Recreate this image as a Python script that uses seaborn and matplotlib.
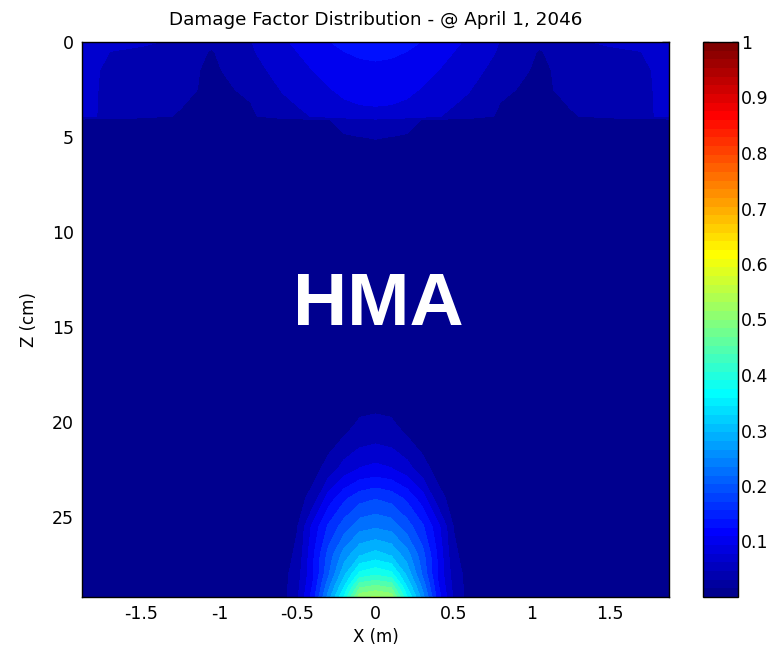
import numpy as np
import pandas as pd
import matplotlib
matplotlib.use("Agg")
import matplotlib.pyplot as plt
import seaborn as sns
from matplotlib.colors import Normalize, ListedColormap
from matplotlib.cm import ScalarMappable

# ---------------- data ----------------
TITLE = "Damage Factor Distribution - @ April 1, 2046"
X_LABEL = "X (m)"
Z_LABEL = "Z (cm)"
LAYER_LABEL = "HMA"

X_M = [-1.88, -1.5, -1.25, -1.05, -0.8, -0.6, -0.5, -0.4, -0.3, -0.2, -0.1, 0.0,
       0.1, 0.2, 0.3, 0.4, 0.5, 0.6, 0.8, 1.05, 1.25, 1.5, 1.88]
Z_CM = [0.0, 0.5, 1.5, 2.5, 3.9, 4.1, 5.0, 6.5, 18.0, 19.5, 20.2, 21.0, 22.5,
        24.0, 25.5, 27.0, 28.0, 28.6, 29.2]

DAMAGE = [
    [.069, .069, .055, .040, .061, .087, .101, .114, .124, .132, .136, .137, .136, .132, .124, .114, .101, .087, .061, .040, .055, .069, .069],
    [.069, .055, .047, .029, .059, .083, .094, .107, .118, .125, .130, .132, .130, .125, .118, .107, .094, .083, .059, .029, .047, .055, .069],
    [.069, .047, .043, .024, .052, .072, .082, .094, .103, .111, .116, .118, .116, .111, .103, .094, .082, .072, .052, .024, .043, .047, .069],
    [.069, .045, .040, .024, .036, .064, .073, .083, .092, .100, .104, .105, .104, .100, .092, .083, .073, .064, .036, .024, .040, .045, .069],
    [.069, .043, .028, .020, .026, .050, .056, .064, .075, .082, .086, .087, .086, .082, .075, .064, .056, .050, .026, .020, .028, .043, .069],
    [.020, .018, .017, .017, .018, .019, .021, .025, .030, .040, .050, .055, .050, .040, .030, .025, .021, .019, .018, .017, .017, .018, .020],
    [.017, .017, .017, .017, .017, .017, .019, .021, .024, .029, .031, .032, .031, .029, .024, .021, .019, .017, .017, .017, .017, .017, .017],
    [.017, .017, .017, .017, .017, .017, .017, .017, .019, .021, .021, .022, .021, .021, .019, .017, .017, .017, .017, .017, .017, .017, .017],
    [.017, .017, .017, .017, .017, .017, .017, .018, .019, .021, .023, .024, .023, .021, .019, .018, .017, .017, .017, .017, .017, .017, .017],
    [.017, .017, .017, .017, .017, .017, .018, .019, .020, .024, .028, .030, .028, .024, .020, .019, .018, .017, .017, .017, .017, .017, .017],
    [.017, .017, .017, .017, .017, .017, .017, .018, .018, .022, .037, .043, .037, .022, .018, .018, .017, .017, .017, .017, .017, .017, .017],
    [.017, .017, .017, .017, .017, .017, .017, .018, .019, .036, .052, .058, .052, .036, .019, .018, .017, .017, .017, .017, .017, .017, .017],
    [.017, .017, .017, .017, .017, .017, .018, .019, .045, .077, .097, .104, .097, .077, .045, .019, .018, .017, .017, .017, .017, .017, .017],
    [.017, .017, .017, .017, .017, .018, .018, .043, .108, .149, .175, .185, .175, .149, .108, .043, .018, .018, .017, .017, .017, .017, .017],
    [.017, .017, .017, .017, .017, .018, .030, .103, .162, .203, .237, .245, .237, .203, .162, .103, .030, .018, .017, .017, .017, .017, .017],
    [.017, .017, .017, .017, .017, .018, .037, .120, .200, .265, .310, .325, .310, .265, .200, .120, .037, .018, .017, .017, .017, .017, .017],
    [.017, .017, .017, .017, .017, .018, .048, .120, .215, .305, .385, .400, .385, .305, .215, .120, .048, .018, .017, .017, .017, .017, .017],
    [.017, .017, .017, .017, .017, .018, .052, .128, .240, .340, .455, .470, .455, .340, .240, .128, .052, .018, .017, .017, .017, .017, .017],
    [.017, .017, .017, .017, .017, .018, .058, .140, .265, .380, .520, .535, .520, .380, .265, .140, .058, .018, .017, .017, .017, .017, .017],
]

X_TICKS = [-1.5, -1.0, -0.5, 0.0, 0.5, 1.0, 1.5]
X_TICK_LABELS = ["-1.5", "-1", "-0.5", "0", "0.5", "1", "1.5"]
Z_TICKS = [0, 5, 10, 15, 20, 25]
Z_TICK_LABELS = ["0", "5", "10", "15", "20", "25"]
CBAR_TICKS = [0.1, 0.2, 0.3, 0.4, 0.5, 0.6, 0.7, 0.8, 0.9, 1.0]
CBAR_TICK_LABELS = ["0.1", "0.2", "0.3", "0.4", "0.5", "0.6", "0.7", "0.8", "0.9", "1"]


# ---------------- colormap (MATLAB-style 64-step jet) ----------------
def matlab_jet(n=64):
    m = n // 4
    u = np.concatenate([np.arange(1, m + 1) / m, np.ones(m - 1), np.arange(m, 0, -1) / m])
    g = int(np.ceil(m / 2)) - (1 if n % 4 == 1 else 0) + np.arange(1, len(u) + 1)
    r = g + m
    b = g - m
    J = np.zeros((n, 3))
    ok = r <= n
    J[r[ok] - 1, 0] = u[ok]
    ok = g <= n
    J[g[ok] - 1, 1] = u[ok]
    ok = b >= 1
    J[b[ok] - 1, 2] = u[ok]
    return J


JET = matlab_jet(64)
cmap = ListedColormap(JET)

# ---------------- styling ----------------
sns.set_theme(style="white")
plt.rcParams["font.family"] = ["DejaVu Sans"]
plt.rcParams["text.color"] = "black"
plt.rcParams["axes.labelcolor"] = "black"
plt.rcParams["axes.edgecolor"] = "black"

W, H = 771, 653
fig = plt.figure(figsize=(W / 100, H / 100), dpi=100)
fig.patch.set_facecolor("white")

ax = fig.add_axes([82 / W, 56 / H, 587 / W, 555 / H])
cax = fig.add_axes([703 / W, 56 / H, 35 / W, 555 / H])

# filled bands coloured by their lower level, as MATLAB's contourf does
levels = np.linspace(0.0, 1.0, 33)
band_colors = [tuple(JET[min(int(round(lv * 64)), 63)]) for lv in levels[:-1]]

field = pd.DataFrame(DAMAGE, index=Z_CM, columns=X_M)
XX, ZZ = np.meshgrid(field.columns.values, field.index.values)
ax.contourf(XX, ZZ, field.values, levels=levels, colors=band_colors, antialiased=False)

ax.set_xlim(-1.88, 1.88)
ax.set_ylim(29.2, 0)
ax.set_xticks(X_TICKS)
ax.set_xticklabels(X_TICK_LABELS)
ax.set_yticks(Z_TICKS)
ax.set_yticklabels(Z_TICK_LABELS)
ax.tick_params(direction="in", top=True, right=True, length=5, width=1,
               labelsize=12.5, colors="black", pad=6)
for s in ax.spines.values():
    s.set_linewidth(1.0)
    s.set_color("black")

ax.set_xlabel(X_LABEL, fontsize=12, labelpad=3, color="black")
ax.set_ylabel(Z_LABEL, fontsize=12, labelpad=10, color="black")
ax.set_title(TITLE, fontsize=13.2, pad=12, color="black")

ax.text(0.016, 13.84, LAYER_LABEL, color="white", fontsize=54, fontweight="bold",
        family="Liberation Sans", ha="center", va="center")

cb = fig.colorbar(ScalarMappable(norm=Normalize(0, 1), cmap=cmap), cax=cax)
cb.set_ticks(CBAR_TICKS)
cb.set_ticklabels(CBAR_TICK_LABELS)
cb.outline.set_linewidth(1.0)
cb.outline.set_edgecolor("black")
cax.tick_params(direction="in", left=True, right=True, length=4, width=1,
                labelsize=12.5, colors="black", pad=2)

fig.savefig("out.png", dpi=100)
